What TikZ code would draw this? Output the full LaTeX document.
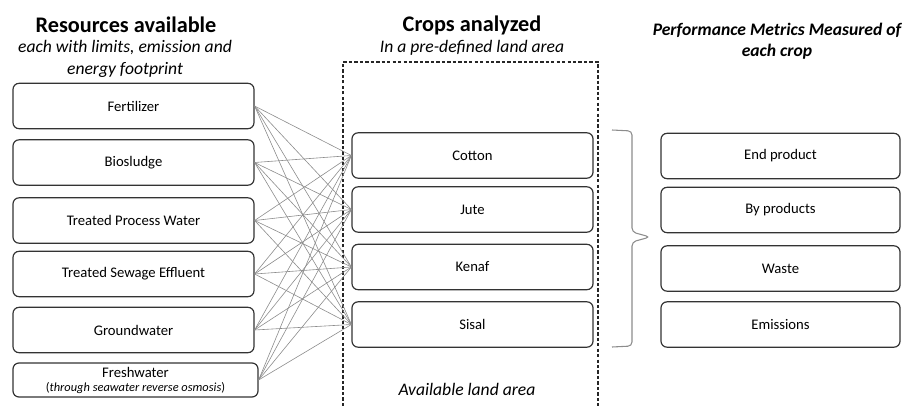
\documentclass[tikz,border=0pt]{standalone}
\usepackage{fontspec}
\setmainfont{Carlito}
\usetikzlibrary{calc}

\begin{document}
\begin{tikzpicture}[x=0.75pt,y=0.75pt,yscale=-1,xscale=1,
  box/.style={draw=black!80,line width=0.9pt,rounded corners=4.5pt,minimum width=180.75pt,minimum height=34pt,inner sep=0pt,align=center,font=\fontsize{11}{12}\selectfont},
  link/.style={draw=black!45,line width=0.45pt},
  heading/.style={inner sep=0pt,align=center,font=\fontsize{16.7}{18}\selectfont\bfseries},
  subhead/.style={inner sep=0pt,align=center,font=\fontsize{13.2}{16}\selectfont\itshape}]
\useasboundingbox (0,0) rectangle (902,406);

% Headings
\node[heading] (reshead) at (126,25) {Resources available};
\node[subhead] (ressub) at (125,59) {each with limits, emission and\\energy footprint};
\node[heading] (crophead) at (472,25) {Crops analyzed};
\node[subhead] (cropsub) at (472,48) {In a pre-defined land area};
\node[subhead,font=\fontsize{13.2}{16}\selectfont\bfseries\itshape] (perfhead) at (777,41) {Performance Metrics Measured of\\each crop};

% Land area (dashed, open at the bottom)
\draw[black!85,line width=0.8pt,dash pattern=on 2.5pt off 1.6pt] (343,406) -- (343,62) -- (598,62) -- (598,406);
\node[subhead] (land) at (467,389) {Available land area};

% Resources
\node[box] (fert) at (133.5,106) {Fertilizer};
\node[box] (sludge) at (133.5,162.5) {Biosludge};
\node[box] (procw) at (133.5,220.5) {Treated Process Water};
\node[box] (sewage) at (133.5,274) {Treated Sewage Effluent};
\node[box] (ground) at (133.5,330) {Groundwater};
\node[box,minimum width=183.75pt,minimum height=25.5pt,font=\fontsize{11}{11.5}\selectfont] (fresh) at (135.5,380) {Freshwater\\[-1pt]{\fontsize{9.3}{9.5}\selectfont(\textit{through seawater reverse osmosis})}};

% Crops
\node[box] (cotton) at (472.5,155.5) {Cotton};
\node[box] (jute) at (472.5,209.5) {Jute};
\node[box] (kenaf) at (472.5,267) {Kenaf};
\node[box] (sisal) at (472.5,324.5) {Sisal};

% Metrics
\node[box,minimum width=179.25pt] (endp) at (780.5,156) {End product};
\node[box,minimum width=179.25pt] (byp) at (780.5,210) {By products};
\node[box,minimum width=179.25pt] (waste) at (780.5,268.5) {Waste};
\node[box,minimum width=179.25pt] (emis) at (780.5,324.5) {Emissions};

% every resource to every crop
\foreach \r in {fert,sludge,procw,sewage,ground,fresh}
  \foreach \c in {cotton,jute,kenaf,sisal}
    \draw[link] (\r.east) -- (\c.west);

% Brace
\draw[black!45,line width=0.8pt,rounded corners=3pt] (612,130) -- (632,131) -- (632,232) -- (650,237) -- (632,242) -- (632,346) -- (612,347);

\end{tikzpicture}
\end{document}
